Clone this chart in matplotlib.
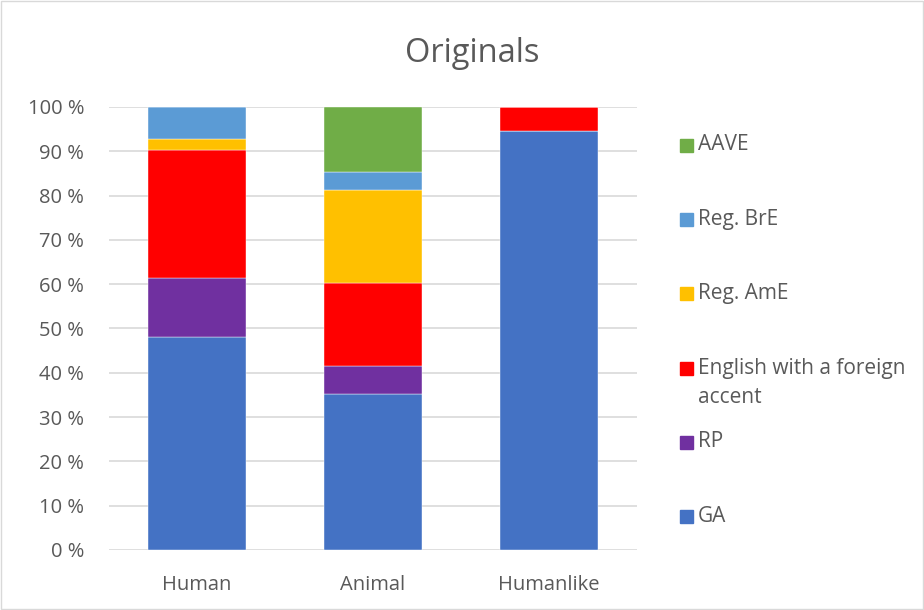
import numpy as np
import matplotlib
matplotlib.use('Agg')
from matplotlib import pyplot as plt
from matplotlib.patches import Rectangle

plt.rcParams['font.family'] = ['Open Sans', 'DejaVu Sans']

categories = ['Human', 'Animal', 'Humanlike']
series = ['GA', 'RP', 'English with a foreign\naccent', 'Reg. AmE', 'Reg. BrE', 'AAVE']
colors = ['#4472C4', '#7030A0', '#FF0000', '#FFC000', '#5B9BD5', '#70AD47']

# shares in percent, one list per series (Human, Animal, Humanlike)
ga = [48.1, 35.3, 94.6]
rp = [13.4, 6.2, 0.0]
foreign = [28.8, 18.7, 5.4]
reg_ame = [2.5, 21.1, 0.0]
reg_bre = [7.2, 4.1, 0.0]
aave = [0.0, 14.6, 0.0]
values = [ga, rp, foreign, reg_ame, reg_bre, aave]

yticks = np.arange(0, 101, 10)
ytick_labels = [str(t) + ' %' for t in yticks]

W, H = 924, 610
fig = plt.figure(figsize=(W / 100, H / 100), dpi=100)
ax = fig.add_axes([0.118, 0.0984, 0.571, 0.7262])

x = np.arange(len(categories))
bottom = np.zeros(len(categories))
for vals, col in zip(values, colors):
    ax.bar(x, vals, 0.556, bottom=bottom, color=col, edgecolor='white', linewidth=0.3, zorder=3)
    bottom += np.array(vals)

ax.set_xlim(-0.5, len(categories) - 0.5)
ax.set_ylim(0, 100)
ax.set_yticks(yticks)
ax.set_yticklabels(ytick_labels)
ax.set_xticks(x)
ax.set_xticklabels(categories)
ax.tick_params(length=0, labelsize=14.5, colors='#595959')
ax.tick_params(axis='x', pad=18)
ax.tick_params(axis='y', pad=18)
ax.grid(axis='y', color='#D9D9D9', linewidth=1.2, zorder=0)
for s in ax.spines.values():
    s.set_visible(False)

fig.text(0.511, 0.912, 'Originals', ha='center', va='center', fontsize=23.5, color='#595959')

# legend drawn by hand, top entry first (reverse of stacking order)
y0, step, line_h = 145, 74.2, 30
for i, (lab, col) in enumerate(zip(series[::-1], colors[::-1])):
    yc = y0 + i * step
    fig.patches.append(Rectangle((680 / W, 1 - (yc + 7) / H), 13 / W, 13 / H,
                                 transform=fig.transFigure, color=col))
    n = lab.count('\n') + 1
    fig.text(698 / W, 1 - (yc + (n - 1) * line_h / 2) / H, lab, ha='left', va='center',
             fontsize=15, color='#595959', linespacing=1.5)

fig.patches.append(Rectangle((0.001, 0.001), 0.998, 0.998, transform=fig.transFigure,
                             fill=False, edgecolor='#D9D9D9', linewidth=1))

plt.savefig('out.png')
